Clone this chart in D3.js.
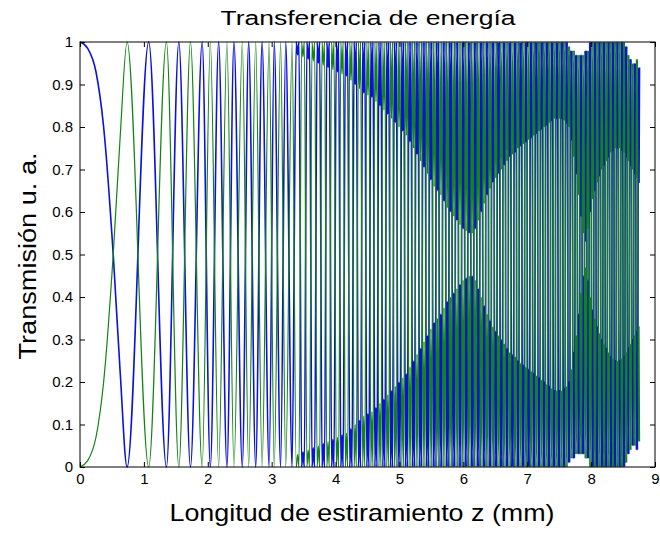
<!DOCTYPE html>
<html>
<head>
<meta charset="utf-8">
<script src="https://cdn.jsdelivr.net/npm/d3@7"></script>
<style>
  html, body { margin: 0; padding: 0; background: #fff; }
  svg { display: block; }
  text { font-family: "Liberation Sans", Arial, Helvetica, sans-serif; fill: #000; }
</style>
</head>
<body>
<svg id="chart" width="660" height="554"></svg>
<script>
// Stretch length z (mm): shoulder samples of the first transfer, then the
// successive turning points (maxima / minima) of the coupled powers.
const zPts = [0, 0.12, 0.25, 0.37, 0.52, 0.63,
  0.737, 1.075, 1.353, 1.547, 1.729, 1.912, 2.04, 2.17, 2.30, 2.41,
  2.54, 2.64, 2.75, 2.85, 2.96, 3.04, 3.14, 3.22, 3.32, 3.406,
  3.490, 3.572, 3.652, 3.731, 3.808, 3.883, 3.957, 4.030, 4.101, 4.171,
  4.240, 4.308, 4.375, 4.441, 4.506, 4.569, 4.632, 4.695, 4.756, 4.817,
  4.876, 4.936, 4.994, 5.052, 5.109, 5.165, 5.221, 5.276, 5.331, 5.385,
  5.439, 5.492, 5.544, 5.596, 5.648, 5.699, 5.750, 5.800, 5.850, 5.899,
  5.948, 5.997, 6.045, 6.093, 6.140, 6.187, 6.234, 6.280, 6.326, 6.372,
  6.417, 6.462, 6.507, 6.551, 6.595, 6.639, 6.683, 6.726, 6.769, 6.812,
  6.854, 6.896, 6.938, 6.980, 7.021, 7.063, 7.104, 7.144, 7.185, 7.225,
  7.265, 7.305, 7.344, 7.384, 7.423, 7.462, 7.501, 7.539, 7.578, 7.616,
  7.654, 7.692, 7.729, 7.767, 7.804, 7.841, 7.878, 7.915, 7.951, 7.987,
  8.024, 8.060, 8.096, 8.131, 8.167, 8.202, 8.238, 8.273, 8.308, 8.343,
  8.377, 8.412, 8.446, 8.481, 8.515, 8.549, 8.583, 8.616, 8.650, 8.683,
  8.717, 8.750];

// Transmission in the launch fibre (blue)
const bluePower = [1, 0.985, 0.93, 0.8, 0.5, 0.22,
  0, 1, 0, 1, 0, 1, 0, 1, 0, 1,
  0, 1, 0, 1, 0, 1, 0, 1, 0, 1,
  0, 1, 0, 1, 0, 1, 0, 1, 0, 1,
  0, 1, 0, 1, 0, 1, 0, 1, 0, 1,
  0, 1, 0, 1, 0, 1, 0, 1, 0, 1,
  0, 1, 0, 1, 0, 1, 0, 1, 0, 1,
  0, 1, 0, 1, 0, 1, 0, 1, 0, 1,
  0, 1, 0, 1, 0, 1, 0, 1, 0, 1,
  0, 1, 0, 1, 0, 1, 0, 1, 0, 1,
  0, 1, 0, 1, 0, 1, 0, 1, 0, 1,
  0.01, 0.98, 0.02, 0.97, 0.03, 0.97, 0.03, 0.98, 0.02, 1,
  0, 1, 0, 1, 0, 1, 0, 1, 0, 1,
  0, 1, 0, 1, 0, 0.99, 0.03, 0.96, 0.05, 0.95,
  0.04, 0.94];

// Transmission in the coupled fibre (green)
const greenPower = [0, 0.015, 0.07, 0.2, 0.5, 0.78,
  1, 0, 1, 0, 1, 0, 1, 0, 1, 0,
  1, 0, 1, 0, 1, 0, 1, 0, 1, 0,
  1, 0, 1, 0, 1, 0, 1, 0, 1, 0,
  1, 0, 1, 0, 1, 0, 1, 0, 1, 0,
  1, 0, 1, 0, 1, 0, 1, 0, 1, 0,
  1, 0, 1, 0, 1, 0, 1, 0, 1, 0,
  1, 0, 1, 0, 1, 0, 1, 0, 1, 0,
  1, 0, 1, 0, 1, 0, 1, 0, 1, 0,
  1, 0, 1, 0, 1, 0, 1, 0, 1, 0,
  1, 0, 1, 0, 1, 0, 1, 0, 1, 0,
  0.99, 0.02, 0.98, 0.03, 0.97, 0.03, 0.97, 0.02, 0.98, 0,
  1, 0, 1, 0, 1, 0, 1, 0, 1, 0,
  1, 0, 1, 0, 1, 0.01, 0.97, 0.04, 0.95, 0.05,
  0.96, 0.06];

// Where the sampled trace folds back short of a full swing at a turning
// point, the level it reaches (null = clean turn).
const blueFold = [null, null, null, null, null, null,
  null, null, null, null, null, null, null, null, null, null,
  null, null, null, null, null, null, null, null, null, 0.97,
  0.035, 0.96, 0.045, 0.95, 0.055, 0.94, 0.065, 0.93, 0.075, 0.92,
  0.09, 0.90, 0.11, 0.88, 0.125, 0.87, 0.14, 0.85, 0.16, 0.83,
  0.18, 0.81, 0.20, 0.79, 0.22, 0.765, 0.25, 0.735, 0.28, 0.705,
  0.31, 0.675, 0.34, 0.65, 0.36, 0.625, 0.39, 0.60, 0.41, 0.58,
  0.43, 0.56, 0.445, 0.55, 0.45, 0.56, 0.42, 0.60, 0.38, 0.64,
  0.345, 0.67, 0.32, 0.69, 0.30, 0.71, 0.28, 0.73, 0.265, 0.74,
  0.25, 0.755, 0.24, 0.765, 0.23, 0.775, 0.22, 0.785, 0.21, 0.795,
  0.20, 0.805, 0.19, 0.815, 0.18, 0.82, 0.18, 0.82, 0.185, 0.81,
  0.20, 0.77, 0.27, 0.69, 0.36, 0.59, 0.45, 0.53, 0.44, 0.60,
  0.37, 0.65, 0.33, 0.685, 0.30, 0.71, 0.28, 0.73, 0.26, 0.745,
  0.25, 0.75, 0.25, 0.745, 0.26, 0.73, 0.28, 0.71, 0.30, 0.69,
  0.32, 0.67];

const greenFold = [null, null, null, null, null, null,
  null, null, null, null, null, null, null, null, null, null,
  null, null, null, null, null, null, null, null, null, 0.03,
  0.965, 0.04, 0.955, 0.05, 0.945, 0.06, 0.935, 0.07, 0.925, 0.08,
  0.91, 0.10, 0.89, 0.12, 0.875, 0.13, 0.86, 0.15, 0.84, 0.17,
  0.82, 0.19, 0.80, 0.21, 0.78, 0.235, 0.75, 0.265, 0.72, 0.295,
  0.69, 0.325, 0.66, 0.35, 0.64, 0.375, 0.61, 0.40, 0.59, 0.42,
  0.57, 0.44, 0.555, 0.45, 0.55, 0.44, 0.58, 0.40, 0.62, 0.36,
  0.655, 0.33, 0.68, 0.31, 0.70, 0.29, 0.72, 0.27, 0.735, 0.26,
  0.75, 0.245, 0.76, 0.235, 0.77, 0.225, 0.78, 0.215, 0.79, 0.205,
  0.80, 0.195, 0.81, 0.185, 0.82, 0.18, 0.82, 0.18, 0.815, 0.19,
  0.80, 0.23, 0.73, 0.31, 0.64, 0.41, 0.55, 0.47, 0.56, 0.40,
  0.63, 0.35, 0.67, 0.315, 0.70, 0.29, 0.72, 0.27, 0.74, 0.255,
  0.75, 0.25, 0.75, 0.255, 0.74, 0.27, 0.72, 0.29, 0.70, 0.31,
  0.68, 0.33];

const xTicks = [0, 1, 2, 3, 4, 5, 6, 7, 8, 9];
const yTicks = [0, 0.1, 0.2, 0.3, 0.4, 0.5, 0.6, 0.7, 0.8, 0.9, 1];
const yTickLabels = ["0", "0.1", "0.2", "0.3", "0.4", "0.5", "0.6", "0.7", "0.8", "0.9", "1"];

const titleText = "Transferencia de energía";
const xLabelText = "Longitud de estiramiento z (mm)";
const yLabelText = "Transmisión u. a.";

// ---- layout ----
const svg = d3.select("#chart");
const plot = { left: 80, right: 655, top: 42, bottom: 467 };

svg.append("rect").attr("width", 660).attr("height", 554).attr("fill", "#fff");

const x = d3.scaleLinear().domain([0, 9]).range([plot.left, plot.right]);
const y = d3.scaleLinear().domain([0, 1]).range([plot.bottom, plot.top]);

svg.append("defs").append("clipPath").attr("id", "plotClip")
  .append("rect")
  .attr("x", plot.left).attr("y", plot.top - 1)
  .attr("width", plot.right - plot.left).attr("height", plot.bottom - plot.top + 2);

// Vertex list of one trace: a folded turn is drawn as a short excursion
// (turn level, fold level, turn level) spread over a quarter spacing each side.
function traceVertices(values, folds) {
  const out = [];
  zPts.forEach((z, i) => {
    const v = values[i];
    const f = folds[i];
    if (f === null) { out.push([z, v]); return; }
    const prev = zPts[i - 1];
    const next = i + 1 < zPts.length ? zPts[i + 1] : z + (z - prev);
    const q = (next - prev) / 8;
    out.push([z - q, v], [z, f], [z + q, v]);
  });
  return out;
}

const blueTrace = traceVertices(bluePower, blueFold);
const greenTrace = traceVertices(greenPower, greenFold);

const line = d3.line().x(d => x(d[0])).y(d => y(d[1])).curve(d3.curveMonotoneX);

const curves = svg.append("g").attr("clip-path", "url(#plotClip)");
curves.append("path").datum(blueTrace)
  .attr("d", line).attr("fill", "none")
  .attr("stroke", "#0a12dc").attr("stroke-width", 1.6);
curves.append("path").datum(greenTrace)
  .attr("d", line).attr("fill", "none")
  .attr("stroke", "#138313").attr("stroke-width", 1.2);

// ---- axes (inward ticks, boxed) ----
const fmtY = d => yTickLabels[yTicks.indexOf(d)];

const gx = svg.append("g").attr("transform", `translate(0,${plot.bottom})`)
  .call(d3.axisBottom(x).tickValues(xTicks).tickSize(-5).tickPadding(6).tickFormat(d3.format("d")));
const gxTop = svg.append("g").attr("transform", `translate(0,${plot.top})`)
  .call(d3.axisTop(x).tickValues(xTicks).tickSize(-5).tickFormat(""));
const gy = svg.append("g").attr("transform", `translate(${plot.left},0)`)
  .call(d3.axisLeft(y).tickValues(yTicks).tickSize(-5).tickPadding(7).tickFormat(fmtY));
const gyRight = svg.append("g").attr("transform", `translate(${plot.right},0)`)
  .call(d3.axisRight(y).tickValues(yTicks).tickSize(-5).tickFormat(""));

[gx, gxTop, gy, gyRight].forEach(g => {
  g.select(".domain").remove();
  g.selectAll(".tick line").attr("stroke", "#000").attr("stroke-width", 1);
  g.selectAll(".tick text")
    .attr("font-family", "'Liberation Sans', Arial, sans-serif")
    .attr("font-size", 15).attr("fill", "#222");
});

svg.append("rect")
  .attr("x", plot.left).attr("y", plot.top)
  .attr("width", plot.right - plot.left).attr("height", plot.bottom - plot.top)
  .attr("fill", "none").attr("stroke", "#000").attr("stroke-width", 1);

// ---- titles ----
svg.append("text")
  .attr("x", 368).attr("y", 25)
  .attr("text-anchor", "middle")
  .attr("font-size", 20)
  .attr("textLength", 295).attr("lengthAdjust", "spacingAndGlyphs")
  .attr("fill", "#111")
  .text(titleText);

svg.append("text")
  .attr("x", 362).attr("y", 521)
  .attr("text-anchor", "middle")
  .attr("font-size", 24)
  .attr("textLength", 385).attr("lengthAdjust", "spacingAndGlyphs")
  .attr("fill", "#111")
  .text(xLabelText);

svg.append("text")
  .attr("transform", "translate(36,256) rotate(-90)")
  .attr("text-anchor", "middle")
  .attr("font-size", 23)
  .attr("textLength", 207).attr("lengthAdjust", "spacingAndGlyphs")
  .attr("fill", "#111")
  .text(yLabelText);
</script>
</body>
</html>
